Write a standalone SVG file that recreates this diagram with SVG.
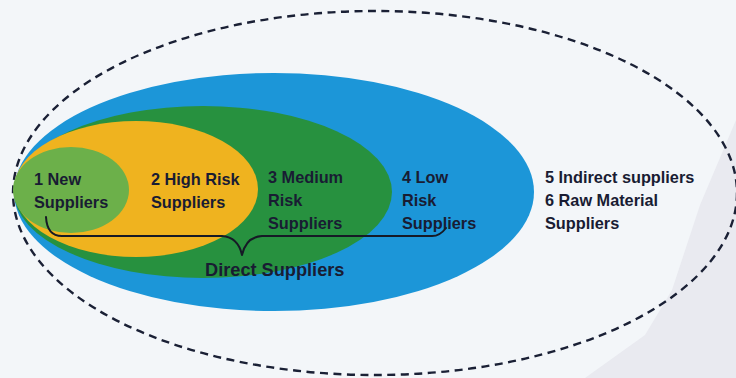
<svg xmlns="http://www.w3.org/2000/svg" width="736" height="378" viewBox="0 0 736 378">
  <style>
    .lbl { font-family: "Liberation Sans", Arial, sans-serif; font-weight: bold; font-size: 16.3px; fill: #191c33; }
    .big { font-size: 18.2px; }
    .brace { fill: none; stroke: #161a26; stroke-width: 2; stroke-linecap: round; stroke-linejoin: round; }
  </style>
  <rect x="0" y="0" width="736" height="378" fill="#f3f6f9"/>
  <polygon points="585,378 645,335 672,290 700,205 736,120 736,378" fill="#e9eaf0"/>

  <g id="outer-ellipse">
    <ellipse cx="375" cy="193" rx="362" ry="182" fill="none" stroke="#1a2035" stroke-width="2.4" stroke-dasharray="8 5.5"/>
    <text class="lbl" x="545" y="183">5 Indirect suppliers</text>
    <text class="lbl" x="545" y="206">6 Raw Material</text>
    <text class="lbl" x="545" y="229">Suppliers</text>
  </g>

  <g id="low-risk">
    <ellipse cx="274" cy="192" rx="260" ry="119" fill="#1c96d8"/>
    <text class="lbl" x="402" y="183">4 Low</text>
    <text class="lbl" x="402" y="206">Risk</text>
    <text class="lbl" x="402" y="229">Suppliers</text>
  </g>

  <g id="medium-risk">
    <ellipse cx="203" cy="192" rx="189" ry="86" fill="#27913f"/>
    <text class="lbl" x="268" y="183">3 Medium</text>
    <text class="lbl" x="268" y="206">Risk</text>
    <text class="lbl" x="268" y="229">Suppliers</text>
  </g>

  <g id="high-risk">
    <ellipse cx="136" cy="189" rx="122" ry="68" fill="#efb31f"/>
    <text class="lbl" x="151" y="185">2 High Risk</text>
    <text class="lbl" x="151" y="208">Suppliers</text>
  </g>

  <g id="new-suppliers">
    <ellipse cx="71" cy="190" rx="58" ry="43" fill="#6cb04a"/>
    <text class="lbl" x="34" y="185">1 New</text>
    <text class="lbl" x="34" y="208">Suppliers</text>
  </g>

  <g id="connectors">
    <path class="brace" d="M46,217 Q47,236 62,236 L222,236 Q238,237 242,255 Q246,237 262,236 L432,236 Q440,236 446,228"/>
  </g>

  <g id="direct-suppliers">
    <text class="lbl big" x="205" y="276">Direct Suppliers</text>
  </g>
</svg>
